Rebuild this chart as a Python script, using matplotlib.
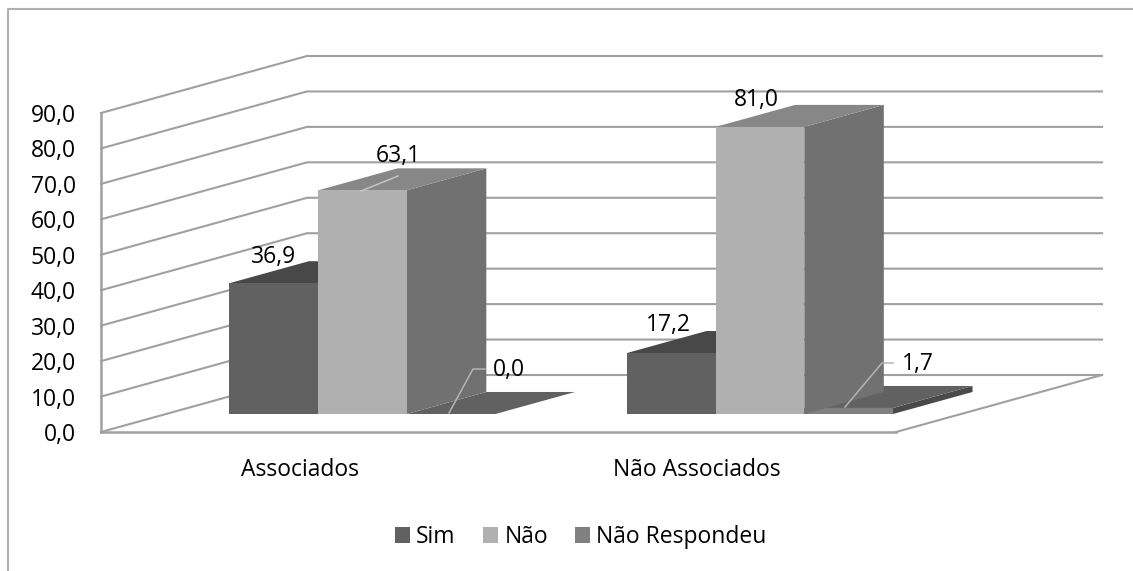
import matplotlib
matplotlib.use("Agg")
import matplotlib.pyplot as plt
from matplotlib.patches import Polygon, Patch

categories = ["Associados", "Não Associados"]
series_names = ["Sim", "Não", "Não Respondeu"]
sim = [36.9, 17.2]
nao = [63.1, 81.0]
nao_resp = [0.0, 1.7]
y_ticks = [0, 10, 20, 30, 40, 50, 60, 70, 80, 90]

front_cols = ["#616161", "#b0b0b0", "#808080"]
top_cols = ["#484848", "#878787", "#616161"]
side_cols = ["#484848", "#717171", "#4a4a4a"]
grid_col = "#a0a0a0"

W, H = 1133, 571
# front plane of the box in pixels
x0, x1 = 101, 896
y0, y90 = 432, 113
depth_px = (206, 57)   # floor depth in pixels (right, up)

plt.rcParams["font.family"] = ["Open Sans", "DejaVu Sans"]
fig = plt.figure(figsize=(W / 100, H / 100), dpi=100)
ax = fig.add_axes([x0 / W, 1 - y0 / H, (x1 - x0) / W, (y0 - y90) / H])
ax.set_xlim(0, 2)
ax.set_ylim(0, 90)
ax.patch.set_visible(False)
for s in ["top", "right"]:
    ax.spines[s].set_visible(False)
for s in ["left", "bottom"]:
    ax.spines[s].set_color(grid_col)
    ax.spines[s].set_linewidth(1.8)

dx = depth_px[0] / ((x1 - x0) / 2)
dy = depth_px[1] / ((y0 - y90) / 90)


def pt(x, v, d):
    # d is depth, 0 at front of floor, 1 at back wall
    return (x + d * dx, v + d * dy)


def box(x_left, width, v, d0, d1, front, top, side, z):
    a = pt(x_left, 0, d0)
    b = pt(x_left + width, 0, d0)
    c = pt(x_left + width, v, d0)
    e = pt(x_left, v, d0)
    f = pt(x_left, v, d1)
    g = pt(x_left + width, v, d1)
    h = pt(x_left + width, 0, d1)
    ax.add_patch(Polygon([b, h, g, c], fc=side, ec="none", zorder=z, clip_on=False))
    ax.add_patch(Polygon([e, c, g, f], fc=top, ec="none", zorder=z, clip_on=False))
    ax.add_patch(Polygon([a, b, c, e], fc=front, ec="none", zorder=z + 0.5, clip_on=False))


# walls
for v in y_ticks:
    xs, ys = zip(pt(0, v, 0), pt(0, v, 1), pt(2, v, 1))
    ax.plot(xs, ys, color=grid_col, lw=1.5, clip_on=False, zorder=1)
xs, ys = zip(pt(2, 0, 0), pt(2, 0, 1))
ax.plot(xs, ys, color=grid_col, lw=1.5, clip_on=False, zorder=1)

# bars
bar_w = 88.7 / 397.5
bar_d0 = 0.316
bar_d1 = 0.702
for i in range(len(categories)):
    vals = [sim[i], nao[i], nao_resp[i]]
    left = i + 0.5 - 1.5 * bar_w - 0.006
    # far right series first so neighbours paint over it
    for k in [2, 1, 0]:
        box(left + k * bar_w, bar_w, vals[k], bar_d0, bar_d1,
            front_cols[k], top_cols[k], side_cols[k], 3 + (k == 1) * 1)

ax.set_xticks([0.5, 1.5], categories)
ax.set_yticks(y_ticks, [f"{v:.1f}".replace(".", ",") for v in y_ticks])
ax.tick_params(axis="both", length=0, labelsize=16.5, colors="black")
ax.tick_params(axis="x", pad=19)
ax.tick_params(axis="y", pad=18)


def px(x, y):
    return ((x - x0) / (x1 - x0) * 2, (y0 - y) / (y0 - y90) * 90)


# data labels, pixel centres
label_txt = ["36,9", "63,1", "0,0", "17,2", "81,0", "1,7"]
label_pos = [(273, 257), (398, 156), (509, 370), (668, 325), (756, 100), (918, 364)]
for t, p in zip(label_txt, label_pos):
    ax.text(*px(*p), t, ha="center", va="center", fontsize=16.5, zorder=10, clip_on=False)

# leader lines
leaders = [
    ([(361, 191), (398, 176)], "#c4c4c4"),
    ([(449, 413), (473, 369), (485, 369)], "#b4b4b4"),
    ([(845, 407), (882, 363), (893, 363)], "#b4b4b4"),
]
for pts, c in leaders:
    xs, ys = zip(*[px(*p) for p in pts])
    ax.plot(xs, ys, color=c, lw=1.1, zorder=9, clip_on=False)

# outer frame
fig.add_artist(plt.Line2D([8 / W, 8 / W, 1], [0, 1 - 9 / H, 1 - 9 / H], color="#b0b0b0", lw=1.5))

handles = [Patch(fc=c, ec="none") for c in front_cols]
fig.legend(handles, series_names, loc="center", bbox_to_anchor=(581 / W, 1 - 537 / H), ncol=3,
           frameon=False, fontsize=16.5, handlelength=0.65, handleheight=0.65,
           handletextpad=0.27, columnspacing=1.2, borderpad=0)

fig.savefig("out.png", dpi=100)
